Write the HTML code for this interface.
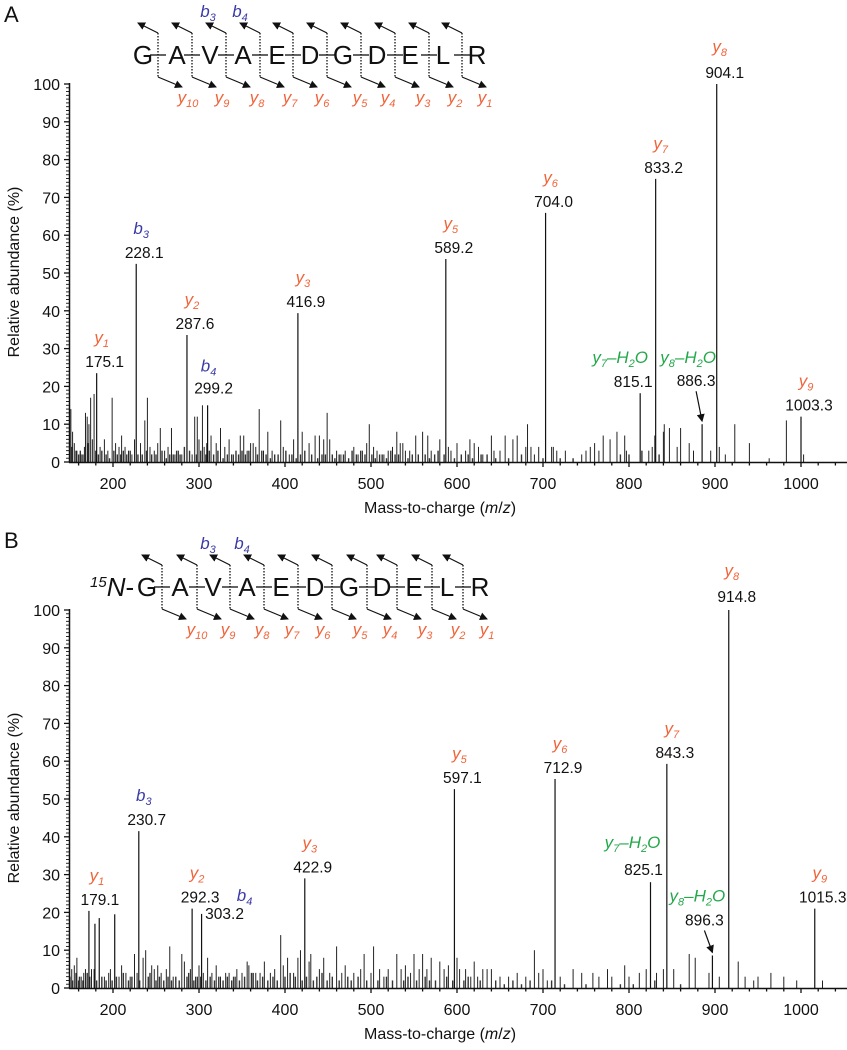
<!DOCTYPE html>
<html><head><meta charset="utf-8"><style>
html,body{margin:0;padding:0;background:#fff}
svg{display:block;font-family:"Liberation Sans",Arial,sans-serif}
</style></head><body>
<svg id="fig" width="847" height="1050" viewBox="0 0 847 1050">
<defs><marker id="ah" markerWidth="8" markerHeight="8" refX="7" refY="4" orient="auto" markerUnits="userSpaceOnUse"><path d="M0,0 L8,4 L0,8 z" fill="#111"/></marker></defs>
</svg>
<script>
// ---------------- DATA ----------------
const panelALetters = ['A','B'];
const mainMzA = [181,227,286,310,415,587,703,813,831,885,902,1000];
const mainAbA = [23.5,52.4,33.6,15,39.4,53.7,65.9,18.2,74.9,10,100,12];
const mainLabelA = ['175.1','228.1','287.6','299.2','416.9','589.2','704.0','815.1','833.2','886.3','904.1','1003.3'];
const mainIonA = ['y1','b3','y2','b4','y3','y5','y6','y7-H2O','y7','y8-H2O','y8','y9'];
const noiseMzA = [151,153,155,158,163,168,170,172,174,176,178,185,190,194,199,203,207,210,214,218,222,225,232,237,240,243,248,252,255,260,264,268,272,276,280,292,295,298,300,304,306,309,314,320,325,330,335,340,348,352,356,360,363,366,370,375,380,385,395,398,405,410,420,428,435,440,445,449,452,460,465,470,480,485,490,495,498,503,507,515,520,525,530,534,537,540,545,552,560,566,570,580,590,593,600,610,615,620,625,630,640,643,650,656,665,670,680,682,686,690,695,710,712,716,726,745,750,755,760,765,770,778,786,795,797,823,827,830,840,841,847,856,860,870,875,895,905,912,923,940,963,983,1003];
const noiseAbA = [14,8,5,3,2,13,12,10,17,6,18,4,6,3,17,5,4,7,4,3,2,6,5,11,17,4,3,5,9,3,4,9,2,3,2,2,12,12,6,15,4,5,7,5,9,4,6,2,7,7,3,5,5,4,14,3,8,3,11,4,2,6,8,5,7,7,6,13,6,3,2,3,4,2,3,5,10,4,3,2,3,4,8,5,5,3,3,7,8,7,3,6,4,3,5,3,6,5,4,2,7,3,3,7,6,7,4,10,4,2,4,4,4,3,3,2,3,4,5,3,7,6,8,7,3,3,4,7,8,10,9,4,9,5,3,3,4,2,10,5,1,11,2];
const grassMzA = [152,157,160,162,165,167,171,180,183,187,192,196,201,205,209,212,216,220,229,234,239,245,250,257,262,266,270,274,278,283,289,297,302,308,312,317,322,328,333,338,343,346,350,354,358,368,373,378,383,388,392,401,408,413,418,423,431,438,443,447,455,458,463,468,474,478,483,488,493,501,505,510,513,518,523,528,532,543,548,555,563,568,574,578,585,597,605,613,618,628,635,645,660,675,700,720,735,790,800,815,835];
const grassAbA = [4,3,2,3,2,4,5,3,2,3,2,1,3,2,2,3,2,3,2,2,3,2,2,3,1,2,2,3,2,4,3,2,3,2,3,2,3,1,2,2,3,2,3,2,3,2,3,2,1,2,2,3,2,1,2,3,2,1,2,2,2,1,2,2,1,3,2,3,2,2,1,2,2,1,3,2,2,1,2,2,2,1,2,3,2,1,2,2,1,2,2,1,1,2,1,1,1,2,2,3,2];

const mainMzB = [172,179,184,202,230,292,303,423,597,714,825,844,897,916,1016];
const mainAbB = [20.4,17,18.5,19.5,41.5,21,19.6,29,52.6,55.3,28,59.3,8.6,100,21];
const mainLabelB = ['179.1','','','','230.7','292.3','303.2','422.9','597.1','712.9','825.1','843.3','896.3','914.8','1015.3'];
const mainIonB = ['y1','','','','b3','y2','b4','y3','y5','y6','y7-H2O','y7','y8-H2O','y8','y9'];
const noiseMzB = [152,155,158,163,166,168,175,178,190,195,197,207,210,215,220,225,228,235,238,245,248,252,256,262,266,270,280,283,290,296,300,305,310,315,320,325,331,335,340,344,350,356,358,366,371,376,383,388,395,398,403,410,415,418,428,430,440,445,452,460,466,470,480,488,492,500,503,510,515,520,530,535,540,546,550,556,560,565,570,580,585,590,600,603,610,616,620,624,630,635,640,650,660,670,680,690,695,700,705,720,735,745,758,765,775,780,795,800,812,820,832,840,852,870,877,893,905,927,935,945,950,965,980,995,1025];
const noiseAbB = [5,6,8,3,4,5,5,5,3,4,5,3,6,4,3,9,4,8,10,6,5,6,4,5,11,3,9,7,5,3,6,4,8,4,6,3,4,4,3,5,4,7,6,4,4,7,4,5,14,6,8,4,8,10,7,9,5,8,4,11,4,6,4,5,9,4,11,5,3,5,9,5,6,4,9,5,9,5,8,7,5,6,8,5,5,3,7,3,5,5,5,3,3,4,3,10,4,5,2,3,5,4,4,3,5,3,6,3,4,5,4,5,5,9,8,4,3,7,3,2,3,4,3,2,2];
const grassMzB = [150,153,157,160,161,165,170,173,181,187,192,199,204,212,218,222,231,241,243,250,254,259,264,268,273,277,286,288,294,298,302,308,313,318,323,328,333,338,342,347,353,361,363,368,374,380,386,391,400,406,412,420,425,433,437,443,449,455,463,473,477,485,495,508,518,525,538,543,553,563,568,575,588,595,608,613,627,645,655,665,675,685,710,725,750,790,805,830,860];
const grassAbB = [3,2,4,2,3,2,4,3,2,3,2,2,3,4,2,3,2,3,4,2,3,2,3,2,3,2,3,4,2,3,3,2,3,2,3,2,3,2,3,2,3,4,4,2,3,2,3,2,3,4,3,2,3,2,3,4,2,3,2,3,2,3,2,2,3,2,2,3,2,3,2,2,3,2,2,3,2,2,1,2,1,2,2,1,1,1,1,2,1];

const xTicks = [200,300,400,500,600,700,800,900,1000];
const yTicks = [0,10,20,30,40,50,60,70,80,90,100];

// ---------------- LAYOUT ----------------
const NS='http://www.w3.org/2000/svg';
const svg=document.getElementById('fig');
const ORANGE='#f0643a', BLUE='#3a3aa6', GREEN='#22a84a';
function xS(m){return 113+(m-200)*0.86;}
function mk(tag,attrs,parent){const e=document.createElementNS(NS,tag);for(const k in attrs)e.setAttribute(k,attrs[k]);(parent||svg).appendChild(e);return e;}
function ionText(g,x,y,name,anchor){
  if(!name)return;
  let col=name.indexOf('H2O')>=0?GREEN:(name[0]==='b'?BLUE:ORANGE);
  const t=mk('text',{x:x,y:y,'font-size':17,'font-style':'italic',fill:col,'text-anchor':anchor||'middle'},g);
  
  
  const m=name.match(/^([a-z])(\d+)(-H2O)?$/);
  const a=document.createElementNS(NS,'tspan');a.textContent=m[1];t.appendChild(a);
  const s=document.createElementNS(NS,'tspan');s.setAttribute('font-size','11');s.setAttribute('dy','4');s.textContent=m[2];t.appendChild(s);
  if(m[3]){
    const h=document.createElementNS(NS,'tspan');h.setAttribute('dy','-4');h.textContent='\u2013H';t.appendChild(h);
    const s2=document.createElementNS(NS,'tspan');s2.setAttribute('font-size','11');s2.setAttribute('dy','4');s2.textContent='2';t.appendChild(s2);
    const o=document.createElementNS(NS,'tspan');o.setAttribute('dy','-4');o.textContent='O';t.appendChild(o);
  }
}

function drawPanel(cfg){
  const g=mk('g',{});
  
  
  const y0=cfg.y0, yS=v=>y0-v*3.78;
  const pl=mk('text',{x:4,y:cfg.off+22,'font-size':22,fill:'#111'},g);pl.textContent=cfg.letter;
  
  
  cfg.gMz.forEach((m,i)=>{
    const l=mk('line',{x1:xS(m),x2:xS(m),y1:y0,y2:yS(cfg.gAb[i]),stroke:'#333','stroke-width':1.4},g);
    
    
  });
  cfg.nMz.forEach((m,i)=>{
    const l=mk('line',{x1:xS(m),x2:xS(m),y1:y0,y2:yS(cfg.nAb[i]),stroke:'#222','stroke-width':1},g);
    
    
  });
  cfg.mMz.forEach((m,i)=>{
    const l=mk('line',{x1:xS(m),x2:xS(m),y1:y0,y2:yS(cfg.mAb[i]),stroke:'#111','stroke-width':1.2},g);
    
    
    if(!cfg.lab[i])return;
    const px=xS(m), top=yS(cfg.mAb[i]);
    const o=cfg.offs[cfg.ion[i]]||{};
    const nx=px+(o.nx!==undefined?o.nx:8), nb=top+(o.ny!==undefined?o.ny:-6);
    const t=mk('text',{x:nx,y:nb,'font-size':15.5,'text-anchor':'middle',fill:'#111'},g);
    t.textContent=cfg.lab[i];
    
    
    ionText(g,nx+(o.ix!==undefined?o.ix:-3),nb+(o.iy!==undefined?o.iy:-24),cfg.ion[i]);
    if(o.arrow){
      const a=mk('line',{x1:nx+o.arrow[0],y1:nb+5,x2:px,y2:top-3,stroke:'#111','stroke-width':1.2,'marker-end':'url(#ah)'},g);
      
      
    }
  });
  mk('line',{x1:69,x2:847,y1:y0+0.5,y2:y0+0.5,stroke:'#111','stroke-width':1.5},g);
  mk('line',{x1:69.5,x2:69.5,y1:y0,y2:yS(100)-1,stroke:'#111','stroke-width':1.5},g);
  for(let m=160;m<=1040;m+=20){
    const maj=m%100===0;
    mk('line',{x1:xS(m),x2:xS(m),y1:y0,y2:y0+(maj?5:3.5),stroke:'#111','stroke-width':1.3},g);
  }
  for(let v=0;v<=100;v++){
    const maj=v%10===0;
    mk('line',{x1:69,x2:maj?64:66,y1:yS(v),y2:yS(v),stroke:'#111','stroke-width':maj?1.3:0.9},g);
  }
  xTicks.forEach(v=>{const t=mk('text',{x:xS(v),y:y0+27,'font-size':16,'text-anchor':'middle',fill:'#111'},g);t.textContent=v;
    
    });
  yTicks.forEach(v=>{const t=mk('text',{x:60,y:yS(v)+6,'font-size':16,'text-anchor':'end',fill:'#111'},g);t.textContent=v;
    
    });
  const xt=mk('text',{x:440,y:y0+51,'font-size':16,'text-anchor':'middle',fill:'#111'},g);
  xt.innerHTML='Mass-to-charge (<tspan font-style="italic">m</tspan>/<tspan font-style="italic">z</tspan>)';
  
  
  const yc=y0-190;
  const yt=mk('text',{x:0,y:0,'font-size':16,'text-anchor':'middle',fill:'#111',transform:`translate(19,${yc}) rotate(-90)`},g);
  yt.textContent='Relative abundance (%)';
  
  
  const sg=mk('g',{},g);
  
  
  cfg.seqX.forEach((x,i)=>{const t=mk('text',{x:x,y:cfg.seqY+9,'font-size':26,'text-anchor':'middle',fill:'#111'},sg);t.textContent=cfg.seq[i];
    
    });
  cfg.cuts.forEach((c,i)=>{
    mk('line',{x1:c-8,x2:c+8,y1:cfg.seqY,y2:cfg.seqY,stroke:'#111','stroke-width':1.3},sg);
    mk('line',{x1:c,x2:c,y1:cfg.seqY-22,y2:cfg.seqY+22,stroke:'#111','stroke-width':1.3,'stroke-dasharray':'1.5,1.5'},sg);
    mk('line',{x1:c,y1:cfg.seqY-22,x2:c-20,y2:cfg.seqY-32,stroke:'#111','stroke-width':1.2,'marker-end':'url(#ah)'},sg);
    mk('line',{x1:c,y1:cfg.seqY+22,x2:c+24,y2:cfg.seqY+32,stroke:'#111','stroke-width':1.2,'marker-end':'url(#ah)'},sg);
  });
  cfg.yLabX.forEach((x,i)=>ionText(sg,x,cfg.seqY+48,'y'+(10-i)));
  ionText(sg,cfg.bX[0],cfg.seqY-38,'b3');
  ionText(sg,cfg.bX[1],cfg.seqY-38,'b4');
  if(cfg.prefix){
    const t=mk('text',{x:cfg.prefix,y:cfg.seqY+9,'font-size':26,fill:'#111'},sg);
    t.innerHTML='<tspan font-size="15" font-style="italic" dy="-9">15</tspan><tspan font-style="italic" dy="9">N</tspan>-';
    
    
  }
}

drawPanel({id:'a',letter:panelALetters[0],off:0,y0:462,nMz:noiseMzA,nAb:noiseAbA,gMz:grassMzA,gAb:grassAbA,mMz:mainMzA,mAb:mainAbA,lab:mainLabelA,ion:mainIonA,
  offs:{'b4':{nx:6,ny:-12,iy:-22,ix:-5},'y7-H2O':{nx:-7,ny:-6,ix:-13,iy:-24},'y8-H2O':{nx:-6,ny:-38,ix:-8,iy:-23,arrow:[0]},'y8':{ny:-6,ix:-5,iy:-26}},
  seq:['G','A','V','A','E','D','G','D','E','L','R'],seqX:[143,177,210,243,277,310,343,377,410,443,477],seqY:55,
  cuts:[158,192,226,260,293,327,361,395,429,462],yLabX:[188,222,257,290,322,360,388,423,455,485],bX:[208,240]});
drawPanel({id:'b',letter:panelALetters[1],off:526,y0:988,nMz:noiseMzB,nAb:noiseAbB,gMz:grassMzB,gAb:grassAbB,mMz:mainMzB,mAb:mainAbB,lab:mainLabelB,ion:mainIonB,
  offs:{'b4':{nx:23,ny:5,ix:20,iy:-18},'y7-H2O':{nx:-7,ny:-7,ix:-11,iy:-27},'y8-H2O':{nx:-8,ny:-30,ix:-7,iy:-24,arrow:[0]},'y8':{ny:-8,ix:-5,iy:-26},'y1':{nx:11}},
  seq:['G','A','V','A','E','D','G','D','E','L','R'],seqX:[147,180,213,247,281,315,349,382,414,447,480],seqY:587,
  cuts:[162,197,230,264,298,332,367,397,432,463],yLabX:[197,228,262,292,323,360,390,425,458,487],bX:[208,242],prefix:90});
</script>
</body></html>
